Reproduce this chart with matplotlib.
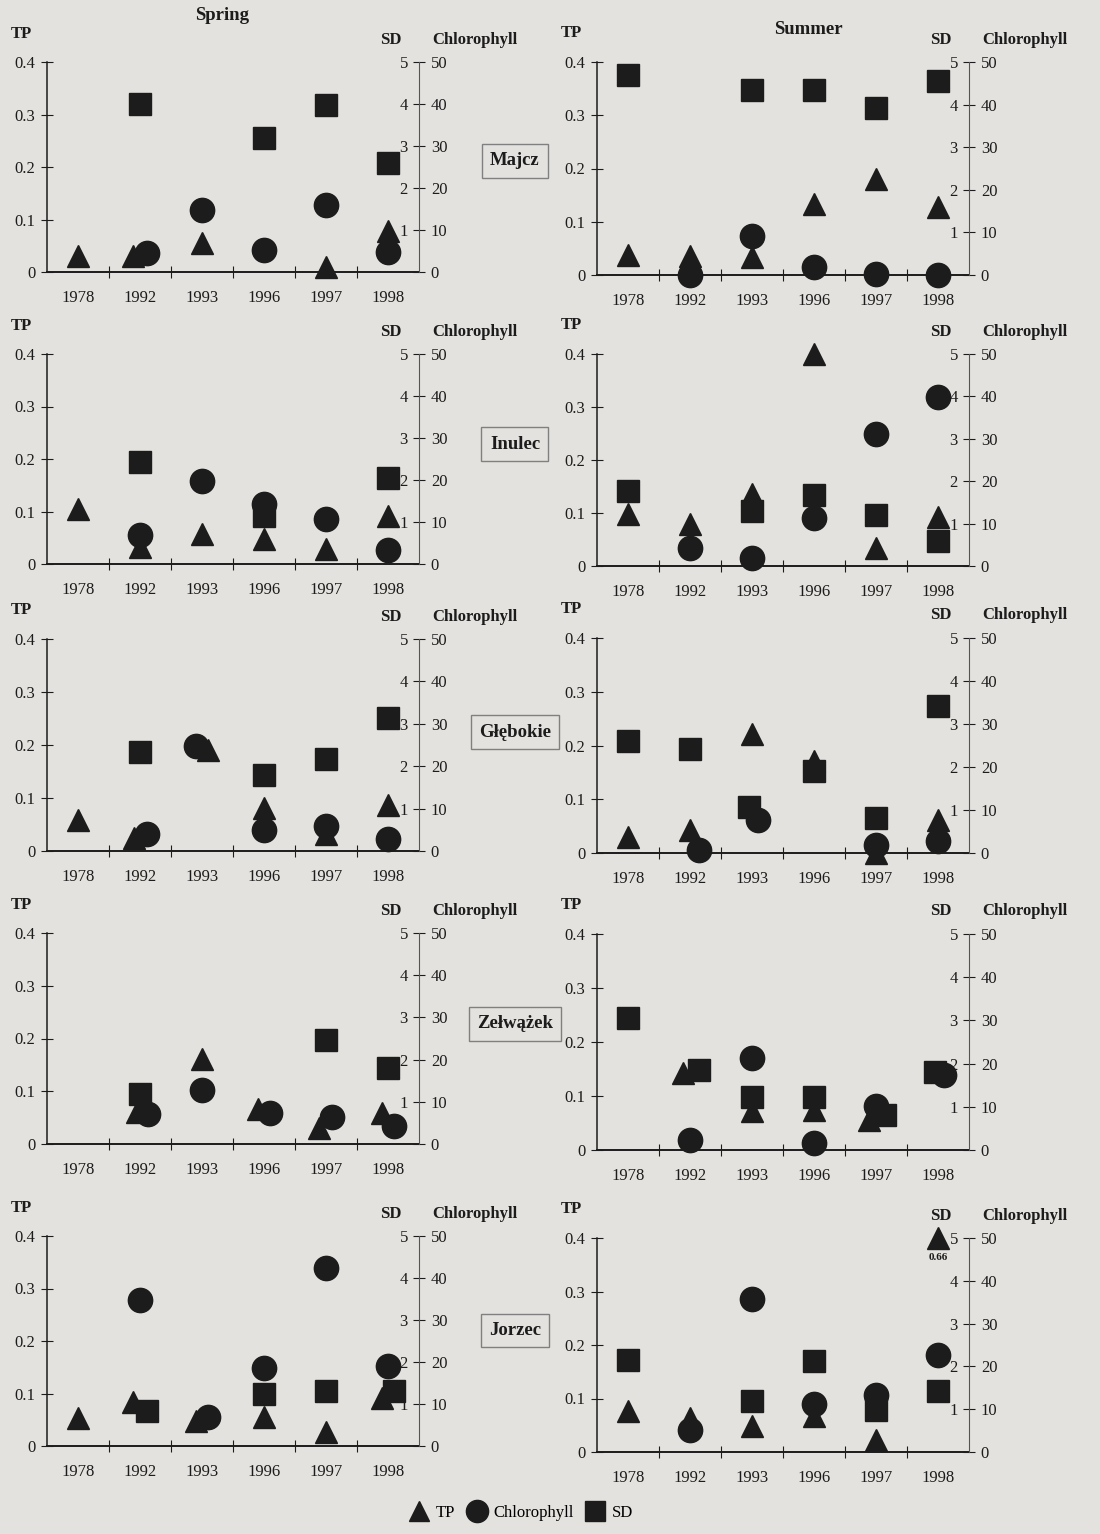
import numpy as np
import matplotlib
matplotlib.use("Agg")
import matplotlib.pyplot as plt
from matplotlib.lines import Line2D

N = np.nan

years = ["1978", "1992", "1993", "1996", "1997", "1998"]
lakes = ["Majcz", "Inulec", "Głębokie", "Zełwążek", "Jorzec"]

# values per lake (rows) and year (columns)
tp_spring = [
    [0.031, 0.031, 0.056, N, 0.009, 0.078],
    [0.104, 0.032, 0.057, 0.047, 0.028, 0.091],
    [0.059, 0.025, 0.190, 0.082, 0.033, 0.087],
    [N, 0.061, 0.161, 0.067, 0.030, 0.058],
    [0.054, 0.083, 0.048, 0.056, 0.026, 0.092],
]
chl_spring = [
    [N, 4.5, 14.8, 5.3, 16.0, 4.8],
    [N, 6.9, 19.8, 14.2, 10.6, 3.3],
    [N, 4.0, 24.7, 5.0, 6.0, 2.8],
    [N, 7.2, 12.7, 7.4, 6.4, 4.2],
    [N, 34.8, 6.8, 18.6, 42.3, 19.0],
]
sd_spring = [
    [N, 4.0, N, 3.18, 3.97, 2.6],
    [N, 2.43, N, 1.14, N, 2.05],
    [N, 2.34, N, 1.8, 2.16, 3.14],
    [N, 1.19, N, N, 2.46, 1.8],
    [N, 0.84, N, 1.23, 1.31, 1.31],
]
tp_summer = [
    [0.037, 0.036, 0.034, 0.134, 0.181, 0.128],
    [0.099, 0.080, 0.136, 0.400, 0.034, 0.092],
    [0.030, 0.043, 0.221, 0.171, 0.0, 0.062],
    [N, 0.142, 0.072, 0.074, 0.055, N],
    [0.076, 0.063, 0.048, 0.067, 0.023, 0.66],
]
chl_summer = [
    [N, 0.0, 9.1, 1.8, 0.2, 0.0],
    [N, 4.2, 1.9, 11.3, 31.2, 39.8],
    [N, 0.7, 7.7, N, 1.9, 2.7],
    [N, 2.2, 21.2, 1.7, 10.2, 17.4],
    [N, 5.2, 35.8, 11.2, 13.4, 22.7],
]
sd_summer = [
    [4.69, N, 4.34, 4.34, 3.93, 4.55],
    [1.76, N, 1.29, 1.68, 1.21, 0.6],
    [2.61, 2.41, 1.06, 1.91, 0.81, 3.43],
    [3.05, 1.85, 1.23, 1.23, 0.81, 1.81],
    [2.15, N, 1.18, 2.13, 0.99, 1.42],
]

# small sideways shifts used in the original to keep markers apart
shifts = {
    (0, 0): {"tp": {1: -0.12}, "chl": {1: 0.12}},
    (2, 0): {"tp": {1: -0.1, 2: 0.1}, "chl": {1: 0.12, 2: -0.1}},
    (2, 1): {"chl": {1: 0.15, 2: 0.1}, "sd": {2: -0.05}},
    (3, 0): {"tp": {1: -0.05, 3: -0.1, 4: -0.12, 5: -0.1}, "chl": {1: 0.13, 3: 0.1, 4: 0.1, 5: 0.1}},
    (3, 1): {"tp": {1: -0.12, 4: -0.12}, "sd": {1: 0.15, 4: 0.15, 5: -0.05}, "chl": {5: 0.1}},
    (4, 0): {"tp": {1: -0.12, 2: -0.1, 5: -0.1}, "sd": {1: 0.12, 5: 0.1}, "chl": {2: 0.1}},
}

plt.rcParams["font.family"] = ["Liberation Serif", "DejaVu Serif"]
INK = "#1c1c1c"
BG = "#e4e2de"

fig = plt.figure(figsize=(11, 15.34), dpi=100)
fig.patch.set_facecolor(BG)
W, H = 1100.0, 1534.0

col_left = [47, 597]
col_width = 372
row_top = [[62, 62], [354, 354], [639, 638], [933, 934], [1236, 1238]]
row_bot = [[272, 275], [564, 566], [851, 853], [1144, 1150], [1446, 1452]]


def shifted(x, key, series):
    d = shifts.get(key, {}).get(series, {})
    return np.array([xi + d.get(i, 0.0) for i, xi in enumerate(x)])


def draw_panel(ax, tp, chl, sd, key):
    x = np.arange(len(years))
    ax.set_facecolor("none")
    ax.set_xlim(-0.5, 5.5)
    ax.set_ylim(0, 0.4)
    for s in ["top", "right"]:
        ax.spines[s].set_visible(False)
    ax.spines["left"].set_linewidth(1.1)
    ax.spines["bottom"].set_linewidth(1.4)
    ax.spines["left"].set_color(INK)
    ax.spines["bottom"].set_color(INK)
    ax.set_xticks(x, years)
    ax.set_xticks(np.arange(0.5, 5.5, 1), minor=True)
    ax.tick_params(axis="x", which="major", length=0, pad=13, labelsize=12, colors=INK)
    ax.tick_params(axis="x", which="minor", direction="inout", length=9, width=0.8, color=INK)
    ax.set_yticks([0, 0.1, 0.2, 0.3, 0.4], ["0", "0.1", "0.2", "0.3", "0.4"])
    ax.tick_params(axis="y", direction="inout", length=9, width=0.8, pad=4, labelsize=12, colors=INK)

    # SD labels sit on the left of the right-hand spine
    ax_sd = ax.twinx()
    ax_sd.set_ylim(0, 5)
    ax_sd.yaxis.tick_left()
    ax_sd.spines["left"].set_position(("axes", 1.0))
    for s in ax_sd.spines.values():
        s.set_visible(False)
    ax_sd.set_yticks(range(1, 6))
    ax_sd.tick_params(axis="y", length=0, pad=8, labelsize=12, colors=INK)

    ax_chl = ax.twinx()
    ax_chl.set_ylim(0, 50)
    for s in ["top", "left", "bottom"]:
        ax_chl.spines[s].set_visible(False)
    ax_chl.spines["right"].set_linewidth(0.8)
    ax_chl.spines["right"].set_color("#555555")
    ax_chl.set_yticks(range(0, 51, 10))
    ax_chl.tick_params(axis="y", direction="inout", length=9, width=0.8, pad=4, labelsize=12, colors=INK)

    tp = np.array(tp, dtype=float)
    tp_plot = np.minimum(tp, 0.4)
    ms = dict(linestyle="none", color=INK, clip_on=False, zorder=5)
    ax_sd.plot(shifted(x, key, "sd"), sd, "s", ms=16.5, **ms)
    ax.plot(shifted(x, key, "tp"), tp_plot, "^", ms=16, **ms)
    ax_chl.plot(shifted(x, key, "chl"), chl, "o", ms=17.5, **ms)
    for xi, v in zip(shifted(x, key, "tp"), tp):
        if v > 0.4:
            ax.annotate(f"{v:.2f}", xy=(xi, 0.4), xytext=(0, -14), textcoords="offset points",
                        ha="center", va="center", fontsize=8, fontweight="bold", color=INK)

    ax.text(-0.07, 1.135, "TP", transform=ax.transAxes, ha="center", va="center",
            fontsize=12, fontweight="bold", color=INK)
    ax.text(0.925, 1.105, "SD", transform=ax.transAxes, ha="center", va="center",
            fontsize=12, fontweight="bold", color=INK)
    ax.text(1.035, 1.105, "Chlorophyll", transform=ax.transAxes, ha="left", va="center",
            fontsize=12, fontweight="bold", color=INK)


name_y = [0.53, 0.57, 0.56, 0.57, 0.55]
data = [(tp_spring, chl_spring, sd_spring), (tp_summer, chl_summer, sd_summer)]
for r in range(len(lakes)):
    for c in range(2):
        top, bot = row_top[r][c], row_bot[r][c]
        ax = fig.add_axes([col_left[c] / W, 1 - bot / H, col_width / W, (bot - top) / H])
        tp, chl, sd = data[c]
        draw_panel(ax, tp[r], chl[r], sd[r], (r, c))
        if c == 0:
            ax.text(1.258, name_y[r], lakes[r], transform=ax.transAxes, ha="center", va="center",
                    fontsize=13.5, fontweight="bold", color=INK,
                    bbox=dict(boxstyle="square,pad=0.45", fc="none", ec="#808080", lw=1))

fig.text(222 / W, 1 - 16 / H, "Spring", ha="center", va="center", fontsize=13.5,
         fontweight="bold", color=INK)
fig.text(808 / W, 1 - 30 / H, "Summer", ha="center", va="center", fontsize=13.5,
         fontweight="bold", color=INK)

handles = [
    Line2D([], [], marker="^", linestyle="none", color=INK, ms=15),
    Line2D([], [], marker="o", linestyle="none", color=INK, ms=16),
    Line2D([], [], marker="s", linestyle="none", color=INK, ms=15),
]
fig.legend(handles, ["TP", "Chlorophyll", "SD"], loc="center", bbox_to_anchor=(522 / W, 1 - 1513 / H),
           ncol=3, frameon=False, handletextpad=0.5, columnspacing=0.8, handlelength=1.0,
           prop={"size": 12})

fig.savefig("out.png", dpi=100, facecolor=BG)
